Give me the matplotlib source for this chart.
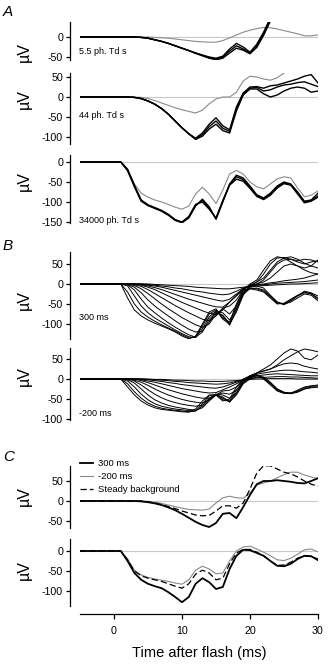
import matplotlib
matplotlib.use("Agg")
import matplotlib.pyplot as plt
from matplotlib.lines import Line2D

plt.rcParams['font.family'] = ['Liberation Sans', 'DejaVu Sans']
plt.rcParams['axes.unicode_minus'] = False

nan = float('nan')

# ---------------- data (µV vs time after flash, ms) ----------------
TIME_MS = [-5] + list(range(0, 31))

# Panel A, 5.5 ph. Td s
A1_BLACK_1 = [0, 0, 0, 0, 0, -1, -3, -7, -11, -16, -22, -28, -34, -40, -45, -50,
              -53, -48, -30, -16, -25, -38, -18, 12, 48, 85, nan, nan, nan, nan, nan, nan]
A1_BLACK_2 = [0, 0, 0, 0, 0, -1, -3, -7, -11, -16, -22, -28, -34, -40, -46, -52,
              -55, -50, -35, -22, -30, -40, -22, 8, 44, 80, nan, nan, nan, nan, nan, nan]
A1_BLACK_3 = [0, 0, 0, 0, 0, -1, -3, -7, -11, -16, -22, -28, -34, -41, -47, -53,
              -57, -53, -40, -28, -33, -42, -26, 4, 40, 76, nan, nan, nan, nan, nan, nan]
A1_GRAY = [0, 0, 0, 0, 0, 0, 0, -1, -2, -3, -5, -7, -9, -11, -12, -13,
           -13, -9, -2, 5, 12, 17, 21, 24, 23, 20, 16, 12, 8, 3, 3, 5]

# Panel A, 44 ph. Td s
A2_BLACK_1 = [0, 0, 0, 0, -1, -4, -10, -18, -29, -43, -60, -77, -92, -103, -90, -68,
              -52, -72, -82, -25, 10, 25, 26, 22, 28, 30, 35, 40, 45, 52, 56, 35]
A2_BLACK_2 = [0, 0, 0, 0, -1, -4, -10, -18, -29, -43, -60, -77, -92, -105, -94, -74,
              -60, -78, -86, -30, 8, 22, 24, 15, 18, 25, 30, 32, 36, 38, 32, 26]
A2_BLACK_3 = [0, 0, 0, 0, -1, -4, -10, -18, -29, -43, -60, -77, -92, -106, -98, -80,
              -68, -84, -90, -35, 5, 20, 20, 8, 0, 5, 15, 22, 25, 22, 12, 15]
A2_GRAY = [0, 0, 0, 0, 0, -1, -4, -9, -15, -21, -27, -32, -36, -40, -33, -17,
           -5, 0, 0, 12, 40, 52, 50, 45, 42, 48, 60, nan, nan, nan, nan, nan]

# Panel A, 34000 ph. Td s
A3_BLACK_1 = [0, 0, 0, -20, -60, -97, -108, -115, -122, -132, -145, -152, -140, -110, -93, -112,
              -143, -100, -55, -33, -40, -60, -82, -90, -78, -60, -50, -55, -75, -98, -95, -78]
A3_BLACK_2 = [0, 0, 0, -22, -62, -98, -109, -116, -123, -133, -146, -151, -138, -108, -96, -115,
              -142, -98, -57, -37, -44, -63, -84, -92, -80, -63, -52, -57, -78, -100, -96, -85]
A3_BLACK_3 = [0, 0, 0, -18, -58, -95, -107, -114, -121, -131, -144, -150, -136, -106, -100, -118,
              -140, -96, -58, -43, -48, -66, -86, -94, -83, -65, -54, -58, -80, -102, -98, -88]
A3_GRAY = [0, 0, 0, -20, -55, -78, -88, -95, -100, -106, -113, -118, -110, -80, -63, -80,
           -104, -70, -30, -21, -30, -50, -62, -67, -55, -42, -37, -40, -65, -87, -83, -72]

# Panel B, 300 ms (intensity series)
B300_TRACES = [
    [0, 0, 0, -35, -65, -80, -90, -98, -105, -112, -120, -130, -137, -130, -100, -70, -62, -85, -95, -50, -15, -12, -15, -20, -35, -50, -48, -38, -28, -20, -25, -38],
    [0, 0, 0, -20, -50, -70, -83, -93, -102, -110, -118, -127, -135, -132, -105, -75, -65, -88, -100, -55, -18, -10, -12, -18, -32, -48, -50, -40, -30, -22, -24, -35],
    [0, 0, 0, -5, -30, -55, -72, -85, -95, -105, -115, -124, -132, -134, -112, -82, -68, -80, -103, -65, -25, -12, -10, -15, -30, -45, -52, -42, -30, -18, -22, -30],
    [0, 0, 0, -2, -15, -38, -58, -72, -85, -97, -108, -118, -127, -133, -120, -88, -72, -78, -100, -70, -28, -8, -5, -10, -28, -45, -50, -45, -35, -25, -28, -42],
    [0, 0, 0, -1, -8, -22, -40, -55, -68, -80, -92, -103, -113, -120, -118, -95, -70, -72, -90, -62, -25, -5, 0, 10, 30, 50, 60, 62, 55, 50, 55, 58],
    [0, 0, 0, 0, -4, -12, -24, -37, -50, -62, -73, -84, -93, -102, -108, -100, -75, -62, -75, -55, -22, -5, 5, 25, 50, 65, 66, 62, 58, 62, 60, 55],
    [0, 0, 0, 0, -2, -6, -14, -24, -34, -44, -54, -63, -72, -80, -88, -92, -80, -60, -55, -40, -15, 0, 10, 35, 58, 68, 65, 55, 45, 40, 45, 60],
    [0, 0, 0, 0, 0, -3, -8, -14, -22, -30, -38, -46, -53, -60, -67, -73, -77, -65, -45, -30, -15, -2, 5, 15, 35, 55, 65, 68, 62, 52, 45, 40],
    [0, 0, 0, 0, 0, -2, -5, -9, -14, -20, -26, -32, -38, -43, -48, -53, -57, -58, -45, -28, -12, -5, 0, 5, 15, 30, 45, 50, 45, 35, 28, 25],
    [0, 0, 0, 0, 0, 0, -3, -5, -8, -12, -16, -20, -24, -28, -32, -36, -40, -43, -38, -25, -12, -5, -2, 0, 3, 5, 8, 10, 12, 15, 20, 25],
    [0, 0, 0, 0, 0, 0, -1, -3, -5, -7, -10, -12, -15, -18, -20, -23, -25, -27, -25, -18, -10, -5, -3, -2, 0, 2, 3, 4, 5, 6, 8, 10],
    [0, 0, 0, 0, 0, 0, 0, -1, -2, -3, -4, -5, -6, -8, -9, -10, -11, -12, -12, -10, -8, -6, -5, -4, -3, -2, -1, 0, 0, 1, 2, 3],
]

# Panel B, -200 ms (intensity series)
BM200_TRACES = [
    [0, 0, 0, -20, -40, -55, -65, -72, -76, -78, -80, -82, -83, -75, -55, -40, -40, -55, -50, -20, 0, 8, 10, 0, -15, -30, -36, -35, -28, -20, -17, -15],
    [0, 0, 0, -12, -32, -48, -60, -68, -73, -76, -78, -80, -82, -80, -62, -42, -38, -52, -55, -28, -5, 5, 10, 2, -12, -28, -35, -36, -30, -22, -18, -17],
    [0, 0, 0, -5, -20, -38, -52, -62, -68, -72, -75, -77, -79, -80, -68, -48, -38, -48, -58, -35, -8, 3, 8, 5, -8, -25, -34, -37, -33, -25, -20, -20],
    [0, 0, 0, -2, -10, -25, -40, -52, -60, -66, -70, -73, -76, -78, -72, -55, -40, -45, -57, -40, -12, 0, 5, 2, -10, -25, -33, -35, -32, -25, -22, -20],
    [0, 0, 0, 0, -5, -15, -27, -38, -47, -54, -59, -63, -66, -68, -66, -52, -38, -40, -48, -35, -10, 5, 15, 25, 35, 50, 65, 75, 70, 52, 48, 60],
    [0, 0, 0, 0, -3, -8, -16, -25, -33, -40, -46, -51, -55, -58, -60, -52, -40, -35, -38, -28, -8, 8, 15, 20, 25, 35, 48, 58, 68, 75, 72, 68],
    [0, 0, 0, 0, 0, -4, -9, -15, -21, -27, -32, -37, -41, -45, -48, -48, -40, -30, -28, -20, -5, 8, 15, 20, 25, 32, 38, 40, 38, 32, 28, 25],
    [0, 0, 0, 0, 0, -2, -5, -8, -12, -16, -20, -24, -27, -30, -33, -35, -34, -27, -20, -12, -3, 5, 12, 15, 18, 20, 22, 22, 20, 18, 17, 15],
    [0, 0, 0, 0, 0, 0, -2, -4, -6, -9, -11, -14, -16, -18, -20, -22, -23, -20, -14, -8, -2, 3, 8, 10, 12, 13, 12, 11, 10, 9, 8, 8],
    [0, 0, 0, 0, 0, 0, -1, -2, -3, -4, -6, -7, -9, -10, -11, -12, -13, -12, -10, -6, -2, 1, 3, 4, 5, 6, 6, 5, 5, 4, 3, 2],
    [0, 0, 0, 0, 0, 0, 0, -1, -1, -2, -3, -3, -4, -5, -5, -6, -6, -6, -5, -4, -2, -1, 0, 0, 1, 1, 1, 1, 0, 0, 0, 0],
]

# Panel C, dim flash
C1_300 = [0, 0, 0, 0, 0, -1, -3, -6, -10, -16, -23, -32, -42, -52, -60, -65,
          -55, -32, -30, -43, -15, 15, 42, 50, 50, 52, 50, 48, 45, 44, 50, 57]
C1_M200 = [0, 0, 0, 0, 0, 0, -1, -3, -6, -10, -14, -18, -21, -22, -23, -20,
           -5, 8, 12, 8, 7, 20, 40, 45, 50, 58, 66, 72, 72, 65, 60, 56]
C1_STEADY = [0, 0, 0, 0, 0, 0, -2, -5, -9, -14, -19, -25, -30, -35, -37, -36,
             -25, -12, -12, -18, -5, 30, 70, 88, 88, 80, 72, 68, 60, 50, 42, 37]
# Panel C, bright flash
C2_300 = [0, 0, 0, -25, -55, -72, -82, -88, -93, -103, -115, -128, -115, -82, -68, -78,
          -95, -90, -45, -12, 3, 2, -5, -12, -25, -37, -38, -32, -20, -12, -13, -23]
C2_M200 = [0, 0, 0, -20, -48, -60, -66, -70, -73, -76, -80, -83, -72, -48, -38, -45,
           -57, -55, -25, 0, 10, 12, 5, -3, -12, -22, -24, -18, -8, 3, 5, -2]
C2_STEADY = [0, 0, 0, -22, -50, -62, -68, -72, -76, -82, -88, -93, -82, -58, -48, -55,
             -72, -68, -32, -5, 4, 4, -3, -12, -25, -36, -35, -28, -18, -12, -14, -20]

LEGEND_LABELS = ["300 ms", "-200 ms", "Steady background"]
PANEL_NOTES = ["5.5 ph. Td s", "44 ph. Td s", "34000 ph. Td s", "300 ms", "-200 ms"]
X_TICKS = [0, 10, 20, 30]

# ---------------- layout ----------------
W, H = 328, 667
fig = plt.figure(figsize=(W / 100, H / 100), dpi=100)
PX_PER_UV = 0.4
X0, X1 = 80, 318

# (zero pixel row, ylim, yticks, label centre)
panels = [
    (37, (-58, 38), [-50, 0], 52),
    (97, (-118, 60), [-100, -50, 0, 50], 99),
    (162, (-152, 18), [-150, -100, -50, 0], 181),
    (284, (-138, 80), [-100, -50, 0, 50], 300),
    (379, (-102, 78), [-100, -50, 0, 50], 376),
    (501, (-68, 88), [-50, 0, 50], 496),
    (551, (-138, 30), [-100, -50, 0], 570),
]

axes = []
for i, (z, yl, yt, lab_y) in enumerate(panels):
    top = z - yl[1] * PX_PER_UV
    bot = z - yl[0] * PX_PER_UV
    ax = fig.add_axes([X0 / W, 1 - bot / H, (X1 - X0) / W, (bot - top) / H])
    ax.set_xlim(-5, 30)
    ax.set_ylim(*yl)
    ax.set_yticks(yt)
    ax.patch.set_visible(False)
    for s in ("top", "right"):
        ax.spines[s].set_visible(False)
    ax.spines["left"].set_position(("outward", 7.2))
    ax.spines["left"].set_linewidth(0.9)
    ax.tick_params(axis="y", direction="out", length=3, width=0.9, pad=2,
                   labelsize=7.7)
    if i < len(panels) - 1:
        ax.spines["bottom"].set_visible(False)
        ax.set_xticks([])
    else:
        ax.spines["bottom"].set_position(("outward", 5.6))
        ax.spines["bottom"].set_linewidth(0.9)
        ax.set_xticks(X_TICKS)
        ax.tick_params(axis="x", direction="out", length=3.5, width=0.9, pad=5,
                       labelsize=7.7)
        ax.set_xlabel("Time after flash (ms)", fontsize=10.5, labelpad=7)
    ax.axhline(0, color="#c8c8c8", lw=0.8, zorder=0)
    fig.text(24 / W, 1 - lab_y / H, "µV", rotation=90, fontsize=11.5,
             ha="center", va="center")
    axes.append(ax)

GRAY = "#8a8a8a"
# A panels
for ax, gray, blacks in [
    (axes[0], A1_GRAY, [A1_BLACK_1, A1_BLACK_2, A1_BLACK_3]),
    (axes[1], A2_GRAY, [A2_BLACK_1, A2_BLACK_2, A2_BLACK_3]),
    (axes[2], A3_GRAY, [A3_BLACK_1, A3_BLACK_2, A3_BLACK_3]),
]:
    ax.plot(TIME_MS, gray, color=GRAY, lw=0.8)
    for b in blacks:
        ax.plot(TIME_MS, b, color="black", lw=1.0)

# B panels
for tr in B300_TRACES:
    axes[3].plot(TIME_MS, tr, color="black", lw=0.7)
for tr in BM200_TRACES:
    axes[4].plot(TIME_MS, tr, color="black", lw=0.7)

# C panels
for ax, s300, sm200, steady in [(axes[5], C1_300, C1_M200, C1_STEADY),
                                 (axes[6], C2_300, C2_M200, C2_STEADY)]:
    ax.plot(TIME_MS, sm200, color=GRAY, lw=0.8)
    ax.plot(TIME_MS, steady, color="black", lw=0.9, ls=(0, (5, 2.5)))
    ax.plot(TIME_MS, s300, color="black", lw=1.3)

handles = [Line2D([], [], color="black", lw=1.3),
           Line2D([], [], color=GRAY, lw=0.8),
           Line2D([], [], color="black", lw=0.9, ls=(0, (5, 2.5)))]
axes[5].legend(handles, LEGEND_LABELS, loc="upper left", frameon=False,
               fontsize=6.8, handlelength=1.4, handletextpad=0.55,
               labelspacing=0.42, borderpad=0, borderaxespad=0,
               bbox_to_anchor=(X0 / W, 1 - 459 / H), bbox_transform=fig.transFigure)

# notes
note_pos = [(79, 52), (79, 116), (79, 221), (79, 318), (79, 413)]
for txt, (x, y) in zip(PANEL_NOTES, note_pos):
    fig.text(x / W, 1 - y / H, txt, fontsize=6.5, ha="left", va="center")

# panel letters
for letter, (x, y) in zip("ABC", [(3, 12), (3, 246), (3, 457)]):
    fig.text(x / W, 1 - y / H, letter, fontsize=11, style="italic",
             ha="left", va="center")

fig.savefig("out.png", dpi=100)
